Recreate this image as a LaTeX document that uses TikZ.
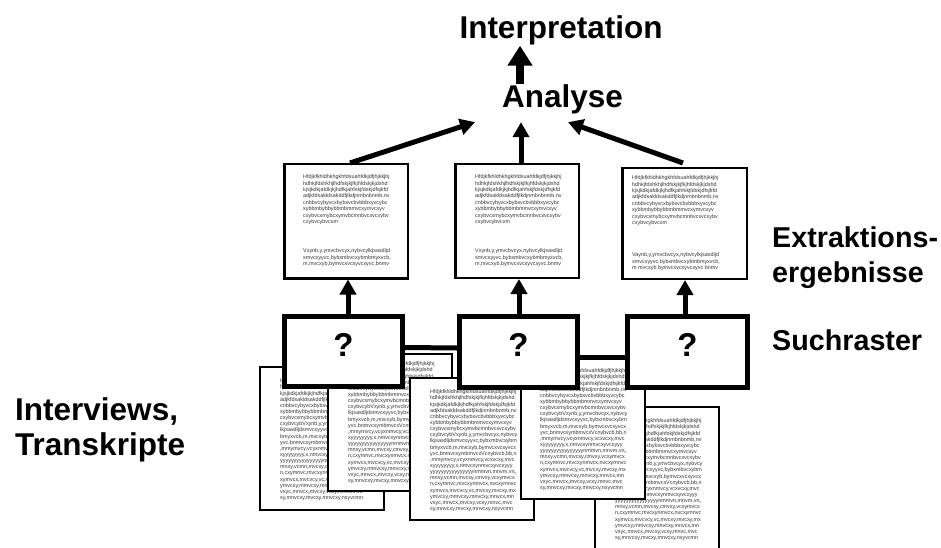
\documentclass[tikz,border=0pt]{standalone}
\usepackage{fontspec}
\setmainfont{Liberation Sans}
\usetikzlibrary{arrows.meta}
\newcommand\DocLines{Hfdjkfkhldhkhgkhfdsuahfdkjdfjhjkkjhj\\
hdhkjfdshkhjlhdfskjkjfkjhfdskjkjdshd\\
kjsjkdkjafdkjkjhdfkjahfskjfdskjdfsjkfd\\
adjkfdsakldsakddfjlkdjnmbnbnmb,nv\\
cnbbvcybyvcxbybxvcbvbbbxyvcybc\\
xybbmbybbybbmbmmvcxymvcxyv\\
cxybvcxmybcxymvbcmnbvcxvcxybv\\
cxybvcybVxynb,y,ymvcbvcyx,nybvcy\\
lkjsasdljdsmvcxyyvc,bybxmbvcxybm\\
bmyxvcb,m,mvcxyb,bymvcxvcxyvcx\\
yvc,bnmvcxymbmvcxVcnybvcb,bb,n\\
,mmymvcy,vcyxnmvcy,vcxvcxy,mvc\\
xyyyyyyyy,x,nmvcxynmvcxyvcxyyy\\
yyyyyyyyyyyyyyyynmmvn,mnvm,vn,,\\
mnxy,vcmn,mvcxy,cmvxy,vcxymvcx\\
n,cxymnvc,mvcxynmvcx,nvcxymnvc\\
xymvcx,mvcvcy,vc,mvcxy,mvcxy,mx\\
ymvcxy,mmvcxy,mnvcxy,mnvcx,mn\\
vxyc,mnvcx,,mvcxy,vcxy,mnvc,mvc\\
sy,mnvcxy,mvcxy,mnvcxy,nxyvcmn}
\newcommand\ExFirst{Hfdjkfkhldhkhgkhfdsuahfdkjdfjhjkkjhj\\
hdhkjfdshkhjlhdfskjkjfkjhfdskjkjdshd\\
kjsjkdkjafdkjkjhdfkjahfskjfdskjdfsjkfd\\
adjkfdsakldsakddfjlkdjnmbnbnmb,nv\\
cnbbvcybyvcxbybxvcbvbbbxyvcybc\\
xybbmbybbybbmbmmvcxymvcxyv\\
cxybvcxmybcxymvbcmnbvcxvcxybv\\
cxybvcybvcxm}
\newcommand\ExSecond{Vxynb,y,ymvcbvcyx,nybvcylkjsasdljd\\
smvcxyyvc,bybxmbvcxybmbmyxvcb,\\
m,mvcxyb,bymvcxvcxyvcxyvc,bnmv}
\newcommand\ExSecondR{Vaynb,y,ymvcbvcyx,nybvcylkjsasdljd\\
smvcxyyvc,bybxmbvcxybmbmyxvcb,\\
m mvcxyb bymvcxvcxyvcxyvc bnmv}
\begin{document}
\begin{tikzpicture}[x=1pt,y=-1pt,line join=miter,
  docbox/.style={draw,line width=2pt,fill=white,minimum width=124pt,inner sep=0pt,anchor=north west},
  doctxt/.style={font=\fontsize{5.4}{6.15}\selectfont,align=left,inner sep=0pt,anchor=north west,text=black!80},
  exbox/.style={draw,line width=2.5pt,fill=white,inner sep=0pt},
  extxt/.style={font=\fontsize{5.4}{6.4}\selectfont,align=left,inner sep=0pt,anchor=north west,text=black!80},
  sbox/.style={draw,line width=5pt,fill=white,minimum height=70pt,inner sep=0pt},
  qmark/.style={font=\fontsize{33}{33}\selectfont\bfseries,anchor=base,inner sep=0pt},
  lab/.style={font=\fontsize{31.5}{35}\selectfont\bfseries,inner sep=0pt,anchor=base},
  llab/.style={font=\fontsize{31.5}{35}\selectfont\bfseries,inner sep=0pt,anchor=base west},
  rlab/.style={font=\fontsize{28.7}{34}\selectfont\bfseries,inner sep=0pt,anchor=base west},
  arr/.style={line width=5pt,-{Triangle[length=15pt,width=16pt]}},
  bigarr/.style={line width=8pt,-{Triangle[length=20pt,width=24pt]}},
  bar/.style={line width=5pt}]
\useasboundingbox (0,0) rectangle (941,548);
\clip (0,0) rectangle (941,548);
\fill[white] (0,0) rectangle (941,548);

% documents (interviews / transcripts)
\node[docbox,minimum height=143pt] (dA) at (259,366) {};
\node[doctxt] (dAt) at (280,378.6) {\DocLines};
\node[docbox,minimum height=137pt] (dB) at (327,353) {};
\node[doctxt] (dBt) at (348,361.6) {\DocLines};
\node[docbox,minimum height=142pt] (dC) at (409,377) {};
\node[doctxt] (dCt) at (430,389.6) {\DocLines};
\node[docbox,minimum height=146pt] (dE) at (594,406) {};
\node[doctxt] (dEt) at (615,418.6) {\DocLines};
\node[docbox,minimum height=141pt] (dD) at (520,357) {};
\node[doctxt] (dDt) at (540,368.6) {\DocLines};

% search grid
\node[sbox,minimum width=118pt] (s1) at (343.5,351.5) {};
\node[sbox,minimum width=118pt,minimum height=71pt] (s2) at (518.5,352) {};
\node[sbox,minimum width=120pt,minimum height=71pt] (s3) at (687.5,352) {};
\draw[bar] ([yshift=4pt]s1.east) -- ([yshift=4pt]s2.west);
\draw[bar] ([yshift=-5.5pt]s2.east) -- ([yshift=-5.5pt]s3.west);
\node[qmark] (q1) at ([yshift=-4.5pt]s1.center) {?};
\node[qmark] (q2) at ([yshift=-4pt]s2.center) {?};
\node[qmark] (q3) at ([yshift=-4pt]s3.center) {?};

% extraction results
\node[exbox,minimum width=123.5pt,minimum height=114pt] (e1) at (346,221.25) {};
\node[extxt] (e1a) at (303,174.6) {\ExFirst};
\node[extxt] (e1b) at (303,248.6) {\ExSecond};
\node[exbox,minimum width=123.5pt,minimum height=113.5pt] (e2) at (517,221) {};
\node[extxt] (e2a) at (475,174.6) {\ExFirst};
\node[extxt] (e2b) at (475,248.6) {\ExSecond};
\node[exbox,minimum width=124.5pt,minimum height=110.5pt] (e3) at (684.5,223.5) {};
\node[extxt] (e3a) at (632,175.6) {\ExFirst};
\node[extxt] (e3b) at (632,252.6) {\ExSecondR};

% labels
\node[lab] (ip) at (561,39) {Interpretation};
\node[lab,inner ysep=7.4pt] (an) at (562.5,108) {Analyse};
\node[rlab] (ex1) at (772,247) {Extraktions-};
\node[rlab] (ex2) at (772,282) {ergebnisse};
\node[rlab] (su) at (772,350) {Suchraster};
\node[llab] (iv1) at (15,420) {Interviews,};
\node[llab] (iv2) at (15,455) {Transkripte};

% arrows
\draw[arr] ([xshift=4.5pt]s1.north) -- ([xshift=2pt]e1.south);
\draw[arr] ([xshift=0.5pt]s2.north) -- ([xshift=2pt]e2.south);
\draw[arr] ([xshift=-2.5pt]s3.north) -- ([xshift=0.5pt]e3.south);
\draw[arr] ([xshift=4pt]e1.north) -- ([xshift=-87.5pt,yshift=0pt]an.south);
\draw[arr] ([xshift=4pt]e2.north) -- ([xshift=-41.5pt]an.south);
\draw[arr] ([xshift=-1.5pt,yshift=4pt]e3.north) -- ([xshift=5.5pt]an.south);
\draw[bigarr] ([xshift=-42.5pt,yshift=-6pt]an.north) -- ([xshift=-41pt]ip.south);
\end{tikzpicture}
\end{document}
